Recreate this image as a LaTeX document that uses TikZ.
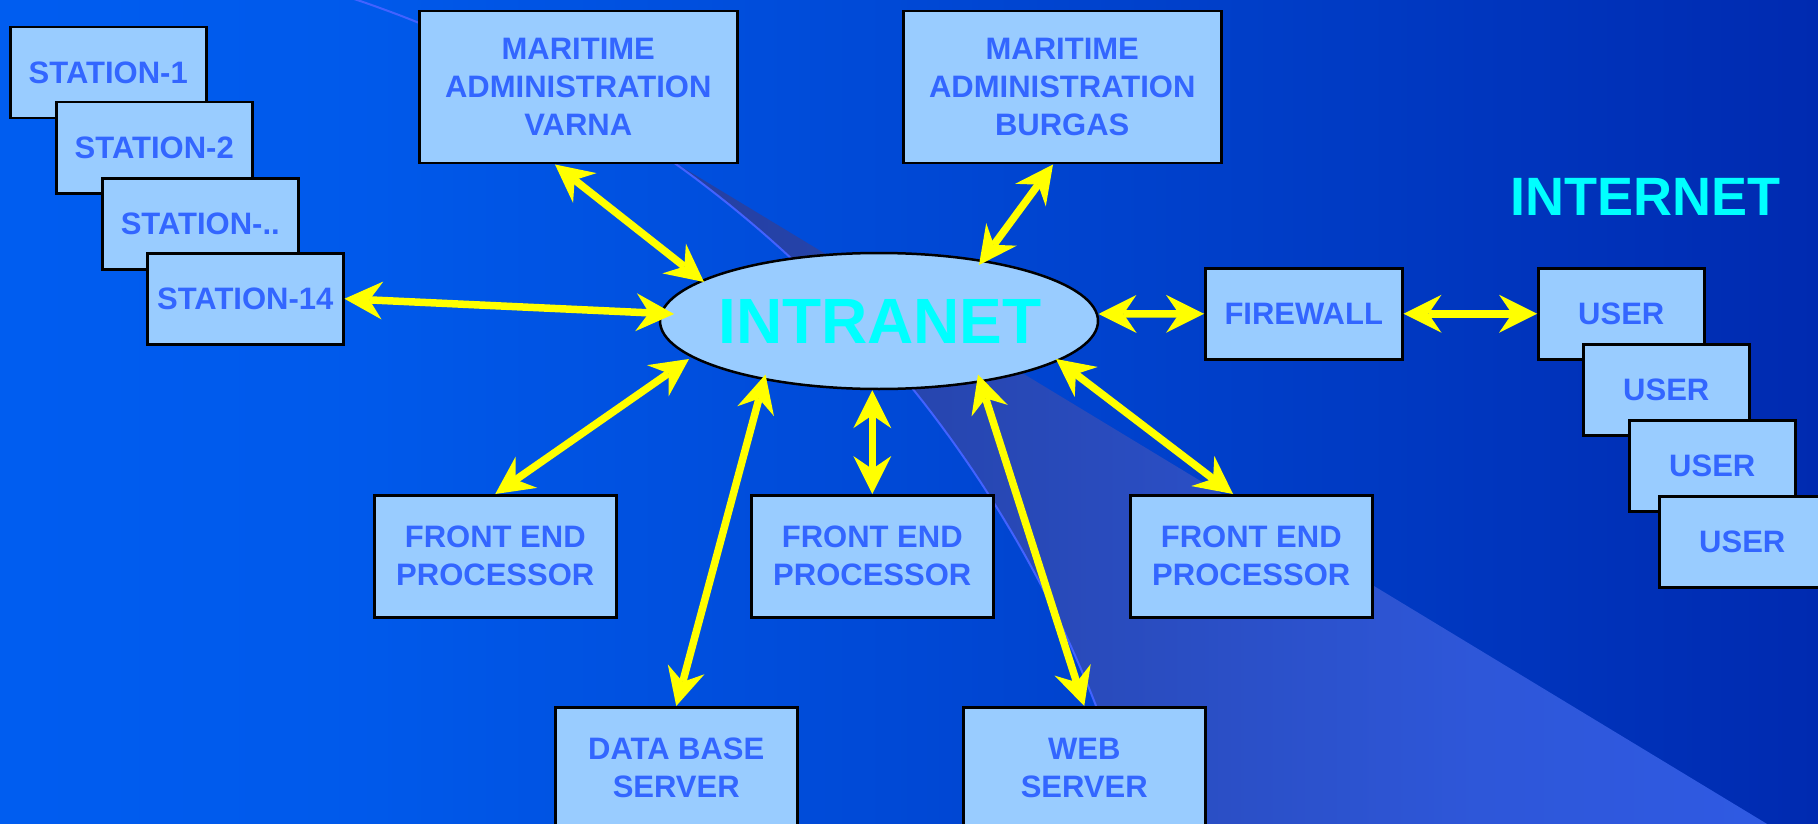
\documentclass[tikz,border=0pt]{standalone}
\usepackage{fontspec}
\setmainfont{Liberation Sans}
\usetikzlibrary{arrows.meta,shapes.geometric,calc}

\definecolor{boxfill}{HTML}{99CCFF}
\definecolor{boxtext}{HTML}{3366FF}
\definecolor{arrowyellow}{HTML}{FFFF00}
\definecolor{cyantext}{HTML}{00FFFF}
\definecolor{arcline}{HTML}{4262FF}
\pgfdeclarehorizontalshading{bgsh}{100bp}{rgb(0bp)=(0,0.40,1); rgb(35bp)=(0,0.35,0.92); rgb(60bp)=(0,0.24,0.78); rgb(80bp)=(0,0.14,0.66); rgb(100bp)=(0,0.03,0.56)}
\pgfdeclarehorizontalshading{bandsh}{100bp}{rgb(0bp)=(0.12,0.19,0.52); rgb(35bp)=(0.15,0.27,0.68); rgb(60bp)=(0.18,0.34,0.85); rgb(100bp)=(0.20,0.38,0.97)}
\newcommand{\boxfont}{\bfseries\fontsize{31}{38}\selectfont}

\begin{document}
\begin{tikzpicture}[x=1pt,y=-1pt,
  box/.style={draw=black, line width=2.5pt, fill=boxfill, text=boxtext, font=\boxfont, align=center, inner sep=0pt, anchor=north west},
  station/.style={box, minimum width=196pt, minimum height=91pt},
  userbox/.style={box, minimum width=166pt, minimum height=91pt},
  bigbox/.style={box, minimum width=318pt, minimum height=152pt},
  fepbox/.style={box, minimum width=242pt, minimum height=122pt},
  tipshape/.tip={Stealth[length=38pt,width=38pt,inset=13pt,line width=0pt]},
  link/.style={draw=arrowyellow, line width=7.5pt, tipshape-tipshape},
]
\useasboundingbox (0,0) rectangle (1818,824);
\clip (0,0) rectangle (1818,824);

% background
\shade[shading=bgsh] (0,0) rectangle (1818,824);
\shade[shading=bandsh] plot[domain=54.6:14,samples=60] ({-31+1210*cos(\x)},{1146-1210*sin(\x)}) -- (1815,853) -- cycle;
\draw[arcline, line width=2pt] plot[domain=73:14,samples=90] ({-31+1210*cos(\x)},{1146-1210*sin(\x)});

% stations
\node[station] (s1) at (9,26) {STATION-1};
\node[station] (s2) at (55,101) {STATION-2};
\node[station] (s3) at (101,177) {STATION-..};
\node[station] (s14) at (146,252) {STATION-14};

% maritime administrations
\node[bigbox] (varna) at (418,10) {MARITIME\\ADMINISTRATION\\VARNA};
\node[bigbox] (burgas) at (902,10) {MARITIME\\ADMINISTRATION\\BURGAS};

% intranet
\node[ellipse, draw=black, line width=2.5pt, fill=boxfill, minimum width=438pt, minimum height=136pt, inner sep=0pt] (intranet) at (879,321) {};
\node[text=cyantext, font=\bfseries\fontsize{64}{64}\selectfont, inner sep=0pt] (intranetlabel) at (880,321.5) {INTRANET};

% firewall, internet, users
\node[box, minimum width=197pt, minimum height=91pt] (firewall) at (1204,267) {FIREWALL};
\node[text=cyantext, font=\bfseries\fontsize{54}{54}\selectfont, inner sep=0pt] (internet) at (1645,196.5) {INTERNET};
\node[userbox] (u1) at (1537,267) {USER};
\node[userbox] (u2) at (1582,343) {USER};
\node[userbox] (u3) at (1628,419) {USER};
\node[userbox] (u4) at (1658,495) {USER};

% processors and servers
\node[fepbox] (fep1) at (373,494) {FRONT END\\PROCESSOR};
\node[fepbox] (fep2) at (750,494) {FRONT END\\PROCESSOR};
\node[fepbox] (fep3) at (1129,494) {FRONT END\\PROCESSOR};
\node[fepbox] (db) at (554,706) {DATA BASE\\SERVER};
\node[fepbox] (web) at (962,706) {WEB\\SERVER};

% connectors
\draw[link] (s14.east) -- ($(intranet.center)+(-205,-7)$);
\draw[link] ($(varna.south west)+(137,0)$) -- ($(intranet.center)+(-175,-39)$);
\draw[link] ($(burgas.south west)+(151,0)$) -- ($(intranet.center)+(100,-56)$);
\draw[link] ($(intranet.center)+(219.5,-7)$) -- (firewall.west);
\draw[link] (firewall.east) -- (u1.west);
\draw[link] (fep1.north) -- ($(intranet.center)+(-190,38)$);
\draw[link] (db.north) -- ($(intranet.center)+(-113.5,53.5)$);
\draw[link] (fep2.north) -- (fep2.north |- intranet.south);
\draw[link] (web.north) -- ($(intranet.center)+(99,53.5)$);
\draw[link] ($(fep3.north west)+(104,0)$) -- ($(intranet.center)+(177,38)$);
\end{tikzpicture}
\end{document}
